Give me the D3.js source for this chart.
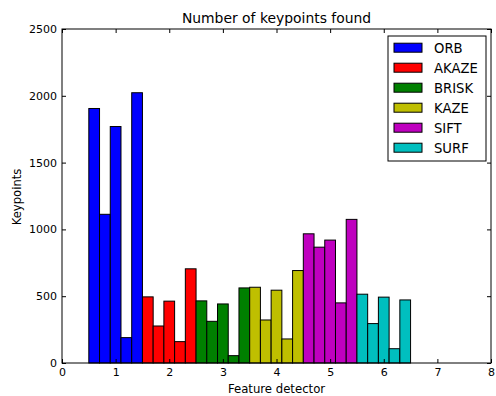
<!DOCTYPE html>
<html>
<head>
<meta charset="utf-8">
<script src="https://cdn.jsdelivr.net/npm/d3@7"></script>
<style>
  html, body { margin: 0; padding: 0; background: #fff; }
  svg text { font-family: "DejaVu Sans", sans-serif; fill: #000; }
</style>
</head>
<body>
<div id="chart"></div>
<script>
// ─── Data ───
var detectors = ['ORB', 'AKAZE', 'BRISK', 'KAZE', 'SIFT', 'SURF'];
var colors = ['#0000ff', '#ff0000', '#008000', '#bfbf00', '#bf00bf', '#00bfbf'];
var orbValues = [1905, 1113, 1770, 190, 2023];
var akazeValues = [495, 277, 463, 160, 705];
var briskValues = [465, 312, 442, 55, 562];
var kazeValues = [567, 322, 545, 180, 692];
var siftValues = [967, 867, 920, 450, 1075];
var surfValues = [515, 295, 493, 107, 472];
var series = [orbValues, akazeValues, briskValues, kazeValues, siftValues, surfValues];
var xTicks = [0, 1, 2, 3, 4, 5, 6, 7, 8];
var yTicks = [0, 500, 1000, 1500, 2000, 2500];

var W = 496, H = 396;
var m = { left: 62, right: 5, top: 29, bottom: 33 };
var iw = W - m.left - m.right, ih = H - m.top - m.bottom;
var barW = 0.2;

var svg = d3.select('#chart').append('svg').attr('width', W).attr('height', H);
var g = svg.append('g').attr('transform', 'translate(' + m.left + ',' + m.top + ')');

var x = d3.scaleLinear().domain([0, 8]).range([0, iw]);
var y = d3.scaleLinear().domain([0, 2500]).range([ih, 0]);

// bars: group i spans [i + 0.5, i + 1.5], five bars of width 0.2
series.forEach(function(vals, i) {
  g.selectAll(null).data(vals).join('rect')
    .attr('x', function(d, j) { return x(i + 0.5 + j * barW); })
    .attr('y', function(d) { return y(d); })
    .attr('width', x(barW) - x(0))
    .attr('height', function(d) { return y(0) - y(d); })
    .attr('fill', colors[i])
    .attr('stroke', '#000').attr('stroke-width', 1);
});

// axes, ticks inward on all four sides
var tl = 4;
g.append('g').attr('transform', 'translate(0,' + ih + ')')
  .call(d3.axisBottom(x).tickValues(xTicks).tickSizeInner(-tl).tickSizeOuter(0).tickPadding(5).tickFormat(d3.format('d')));
g.append('g')
  .call(d3.axisTop(x).tickValues(xTicks).tickSizeInner(-tl).tickSizeOuter(0).tickFormat(''));
g.append('g')
  .call(d3.axisLeft(y).tickValues(yTicks).tickSizeInner(-tl).tickSizeOuter(0).tickPadding(5).tickFormat(d3.format('d')));
g.append('g').attr('transform', 'translate(' + iw + ',0)')
  .call(d3.axisRight(y).tickValues(yTicks).tickSizeInner(-tl).tickSizeOuter(0).tickFormat(''));
g.selectAll('.domain').remove();
g.selectAll('.tick line').attr('stroke', '#000');
g.selectAll('.tick text').attr('font-size', '11px').attr('font-family', 'DejaVu Sans');
g.append('rect').attr('width', iw).attr('height', ih).attr('fill', 'none').attr('stroke', '#000').attr('stroke-width', 1);

// labels
svg.append('text').attr('x', m.left + iw / 2).attr('y', 23).attr('text-anchor', 'middle')
  .attr('font-size', '13.9px').text('Number of keypoints found');
svg.append('text').attr('x', m.left + iw / 2).attr('y', 393).attr('text-anchor', 'middle')
  .attr('font-size', '11.7px').text('Feature detector');
svg.append('text').attr('transform', 'translate(21,' + (m.top + ih / 2 + 1) + ') rotate(-90)')
  .attr('text-anchor', 'middle').attr('font-size', '11.6px').text('Keypoints');

// legend
var lg = svg.append('g').attr('transform', 'translate(388,36)');
lg.append('rect').attr('width', 98).attr('height', 125).attr('fill', '#fff').attr('stroke', '#000');
detectors.forEach(function(name, i) {
  var cy = 11.7 + i * 20;
  lg.append('rect').attr('x', 6).attr('y', cy - 4.5).attr('width', 28).attr('height', 9)
    .attr('fill', colors[i]).attr('stroke', '#000');
  lg.append('text').attr('x', 46).attr('y', cy + 4.8).attr('font-size', '13.2px').text(name);
});
</script>
</body>
</html>
